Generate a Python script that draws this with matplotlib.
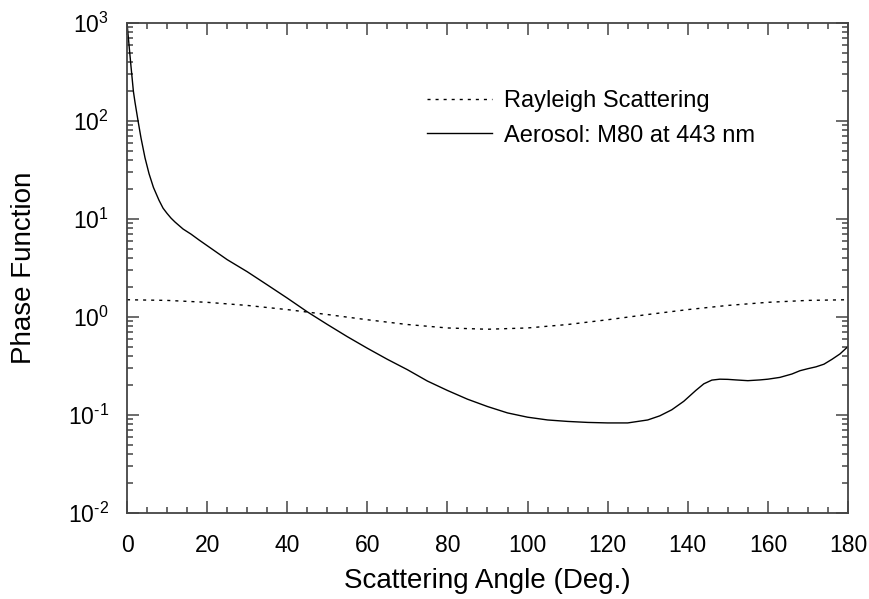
import matplotlib
matplotlib.use("Agg")
import matplotlib.pyplot as plt
from matplotlib.ticker import LogLocator, MultipleLocator, NullFormatter, FixedLocator

plt.rcParams['font.family'] = ['Liberation Sans', 'DejaVu Sans']
plt.rcParams['mathtext.fontset'] = 'custom'
plt.rcParams['mathtext.rm'] = 'Liberation Sans'
plt.rcParams['mathtext.it'] = 'Liberation Sans'
plt.rcParams['lines.scale_dashes'] = False

# Rayleigh scattering phase function
rayleigh_angle = [0, 10, 20, 30, 40, 50, 60, 70, 80, 90, 100, 110, 120, 130, 140, 150, 160, 170, 180]
rayleigh_value = [1.5, 1.477, 1.412, 1.3125, 1.190, 1.060, 0.9375, 0.838, 0.773, 0.75,
                  0.773, 0.838, 0.9375, 1.060, 1.190, 1.3125, 1.412, 1.477, 1.5]

# Aerosol M80 at 443 nm
aerosol_angle = [0, 0.5, 1, 1.6, 2, 2.8, 3.5, 4.5, 5.5, 6.6, 8, 9, 10, 11, 12, 14, 16, 18, 20,
                 25, 30, 35, 40, 45, 50, 55, 60, 65, 70, 75, 80, 85, 90, 95, 100, 105,
                 110, 115, 120, 125, 130, 133, 136, 139, 142, 144, 146, 148, 150, 152,
                 155, 158, 160, 163, 166, 168, 170, 172, 174, 176, 178, 180]
aerosol_value = [1000, 600, 360, 200, 155, 98, 67, 42, 29, 21, 15.5, 12.9, 11.4, 10.2, 9.3, 7.9, 7.0, 6.1, 5.35,
                 3.85, 2.9, 2.13, 1.56, 1.13, 0.84, 0.63, 0.48, 0.37, 0.29, 0.222, 0.178, 0.145,
                 0.122, 0.105, 0.095, 0.089, 0.086, 0.084, 0.083, 0.083, 0.089, 0.098, 0.113,
                 0.138, 0.178, 0.208, 0.227, 0.232, 0.231, 0.228, 0.224, 0.228, 0.232, 0.242,
                 0.262, 0.283, 0.297, 0.31, 0.33, 0.37, 0.42, 0.5]

x_ticks = [0, 20, 40, 60, 80, 100, 120, 140, 160, 180]
y_ticks = [1e-2, 1e-1, 1e0, 1e1, 1e2, 1e3]
y_tick_labels = ['$10^{\u20102}$', '$10^{\u20101}$', r'$10^{0}$', r'$10^{1}$', r'$10^{2}$', r'$10^{3}$']

fig = plt.figure(figsize=(8.69, 5.99), dpi=100)
ax = fig.add_axes([127/869, 86/599, 721/869, 490/599])

ax.plot(rayleigh_angle, rayleigh_value, color='black', lw=1.0,
        linestyle=(0, (2.2, 3.6)), label='Rayleigh Scattering')
ax.plot(aerosol_angle, aerosol_value, color='black', lw=1.0,
        label='Aerosol: M80 at 443 nm')

ax.set_yscale('log')
ax.set_xlim(0, 180)
ax.set_ylim(1e-2, 1e3)

ax.xaxis.set_major_locator(FixedLocator(x_ticks))
ax.xaxis.set_minor_locator(MultipleLocator(5))
ax.set_xticklabels([str(t) for t in x_ticks])
ax.yaxis.set_major_locator(FixedLocator(y_ticks))
ax.set_yticklabels(y_tick_labels)
ax.yaxis.set_minor_locator(LogLocator(base=10, subs=range(2, 10), numticks=20))
ax.yaxis.set_minor_formatter(NullFormatter())

spine_c = '#444444'
for s in ax.spines.values():
    s.set_color(spine_c)
    s.set_linewidth(1.3)
ax.tick_params(which='both', direction='in', top=True, right=True, color=spine_c, width=1.1)
ax.tick_params(which='major', length=8.5, labelsize=16.5)
ax.tick_params(axis='x', which='major', pad=15)
ax.tick_params(axis='y', which='major', pad=13)
ax.tick_params(which='minor', length=4.5)

ax.set_xlabel('Scattering Angle (Deg.)', fontsize=20, labelpad=8)
ax.set_ylabel('Phase Function', fontsize=20, labelpad=22)

ax.legend(loc='upper left', bbox_to_anchor=(0.403, 0.883), frameon=False, fontsize=17,
          handlelength=2.75, handletextpad=0.5, labelspacing=0.55, borderaxespad=0)

fig.savefig('out.png', dpi=100)
